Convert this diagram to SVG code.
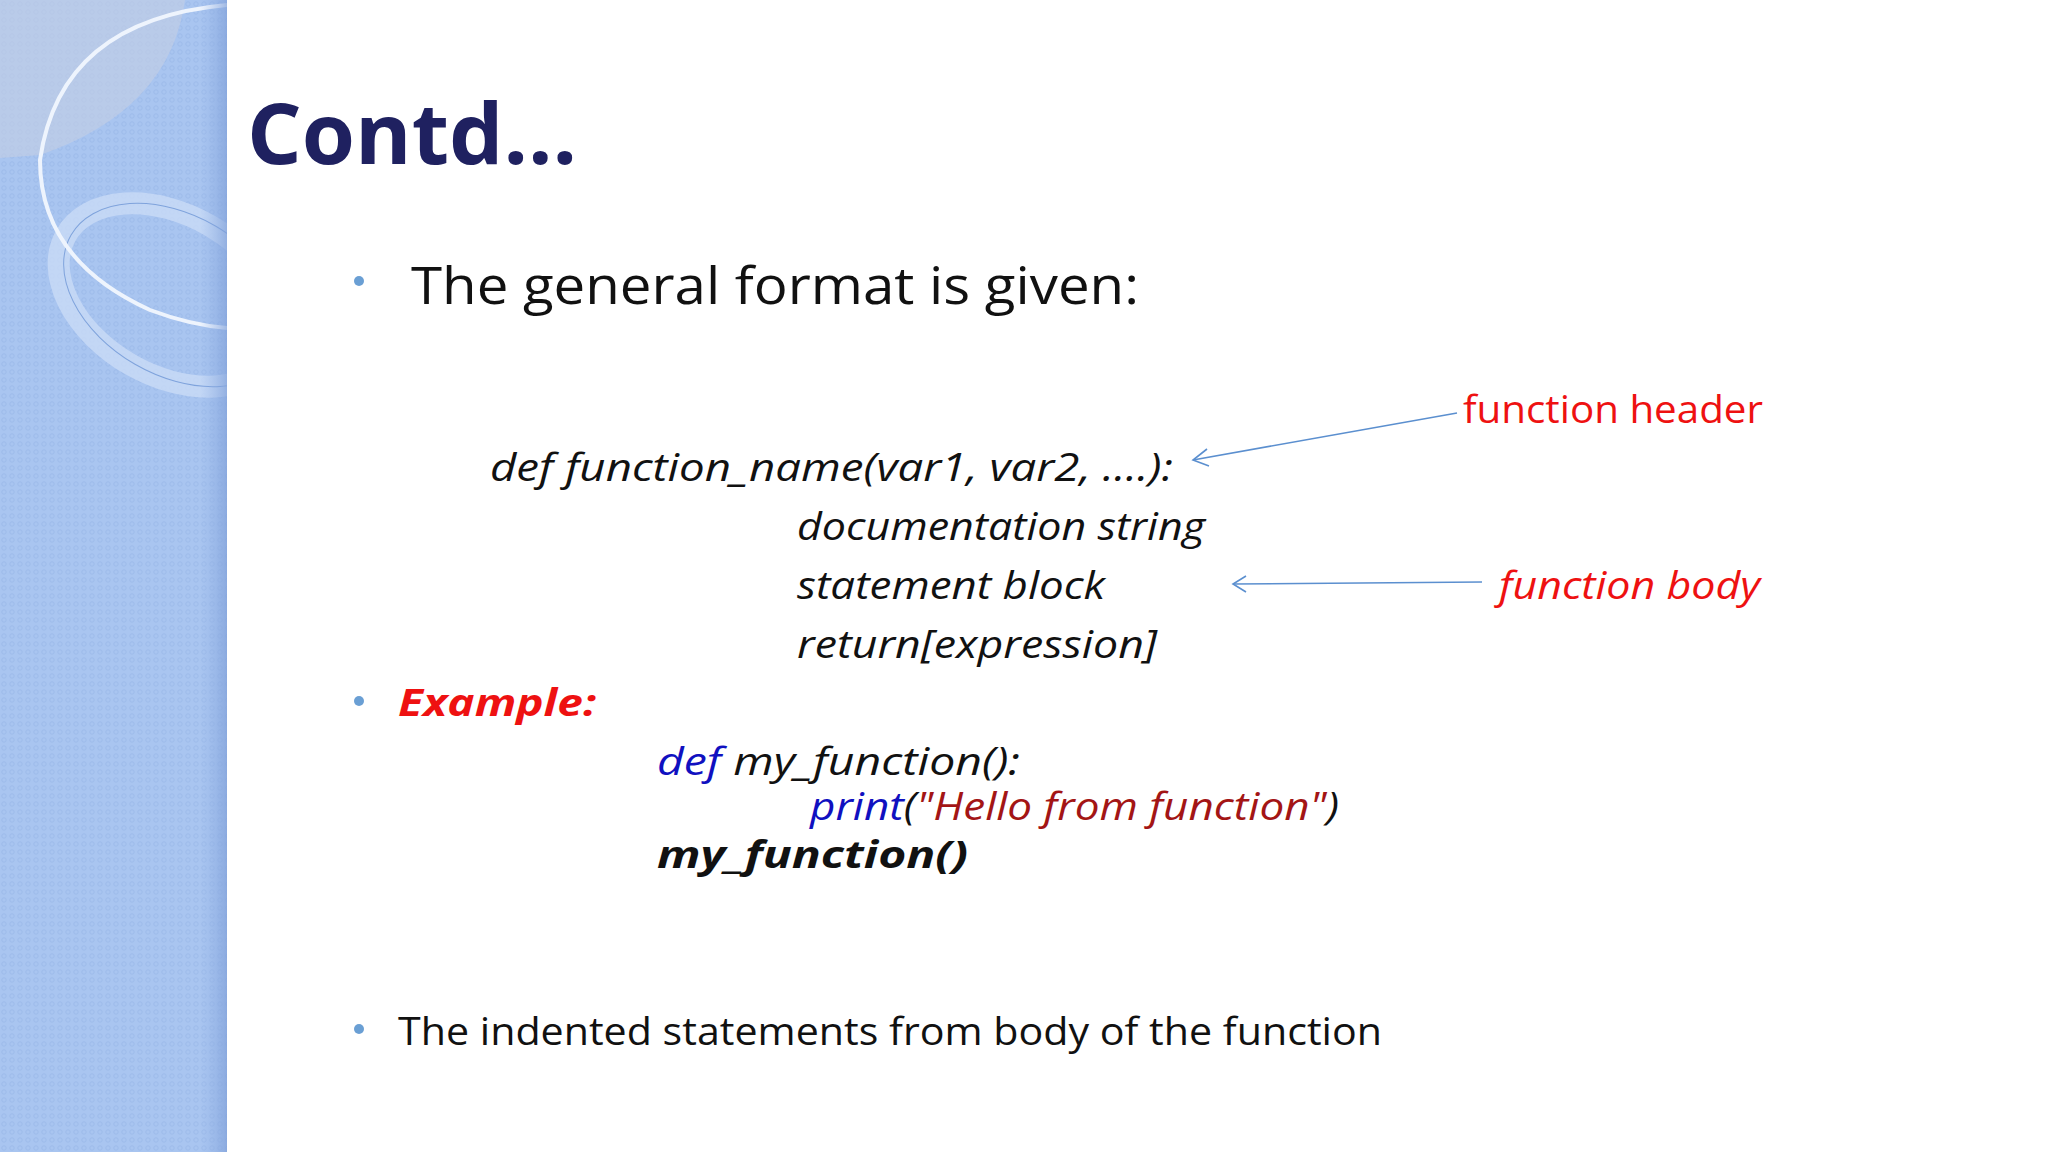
<svg xmlns="http://www.w3.org/2000/svg" width="2048" height="1152" viewBox="0 0 2048 1152">
<style>
.t{font-family:"Open Sans","DejaVu Sans",sans-serif;}
.code{font-family:"Open Sans","DejaVu Sans",sans-serif;font-style:italic;font-size:38px;fill:#111;}
.red{fill:#ee1111;}
.blue{fill:#1010c0;}
.bul{fill:#6a9fd4;}
.arr{stroke:#5b8fcf;stroke-width:1.6;fill:none;}
</style>
<defs>
<pattern id="dots" width="8" height="8" patternUnits="userSpaceOnUse">
<rect width="8" height="8" fill="#a9c5f0"/>
<circle cx="4" cy="4" r="2.2" fill="none" stroke="#9dbbea" stroke-width="1"/>
</pattern>
<linearGradient id="edge" x1="0" x2="1"><stop offset="0" stop-color="#8fb0e6" stop-opacity="0"/><stop offset="1" stop-color="#7f9fd8" stop-opacity="0.7"/></linearGradient>
<clipPath id="pc"><rect width="227" height="1152"/></clipPath>
</defs>
<rect width="2048" height="1152" fill="#ffffff"/>
<g id="panel" clip-path="url(#pc)">
<rect width="227" height="1152" fill="url(#dots)"/>
<path d="M0 0 H185 Q170 110 40 155 L0 158 Z" fill="#c4cfe4" opacity="0.6"/>
<ellipse cx="170" cy="295" rx="120" ry="80" transform="rotate(30 170 295)" fill="none" stroke="#c9dbf6" stroke-width="22" opacity="0.8"/>
<ellipse cx="175" cy="295" rx="120" ry="80" transform="rotate(30 175 295)" fill="none" stroke="#7fa3dc" stroke-width="1"/>
<path d="M227 5 Q60 20 40 160 Q40 260 150 310 Q190 325 227 328" fill="none" stroke="#eef4fd" stroke-width="4"/>
<rect x="200" width="27" height="1152" fill="url(#edge)"/>
</g>
<g id="title"><text x="247" y="164" class="t" font-weight="bold" font-size="84" fill="#1f2160" textLength="330" lengthAdjust="spacingAndGlyphs">Contd…</text></g>
<g id="b1"><circle cx="359" cy="281" r="5" class="bul"/><text x="411" y="304" class="t" font-size="51" fill="#111" textLength="728" lengthAdjust="spacingAndGlyphs">The general format is given:</text></g>
<g id="header"><text x="490" y="481" class="code" textLength="683" lengthAdjust="spacingAndGlyphs">def function_name(var1, var2, ….):</text></g>
<g id="doc"><text x="797" y="540" class="code" textLength="408" lengthAdjust="spacingAndGlyphs">documentation string</text></g>
<g id="stmt"><text x="797" y="599" class="code" textLength="308" lengthAdjust="spacingAndGlyphs">statement block</text></g>
<g id="ret"><text x="797" y="658" class="code" textLength="360" lengthAdjust="spacingAndGlyphs">return[expression]</text></g>
<g id="lblheader"><text x="1463" y="423" class="t red" font-size="39" textLength="300" lengthAdjust="spacingAndGlyphs">function header</text></g>
<g id="lblbody"><text x="1499" y="599" class="t red" font-style="italic" font-size="39" textLength="261" lengthAdjust="spacingAndGlyphs">function body</text></g>
<g id="connectors">
<path class="arr" d="M1457 413 L1193 460"/>
<path class="arr" d="M1207 449 L1193 460 L1209 466"/>
<path class="arr" d="M1482 582 L1233 584"/>
<path class="arr" d="M1246 576 L1233 584 L1246 592"/>
</g>
<g id="b2"><circle cx="359" cy="701" r="5" class="bul"/><text x="398" y="716" class="t red" font-weight="bold" font-style="italic" font-size="38" textLength="198" lengthAdjust="spacingAndGlyphs">Example:</text></g>
<g id="ex1"><text x="657" y="775" class="code" textLength="363" lengthAdjust="spacingAndGlyphs"><tspan class="blue">def</tspan> my_function():</text></g>
<g id="ex2"><text x="810" y="820" class="code" textLength="529" lengthAdjust="spacingAndGlyphs"><tspan class="blue">print</tspan>(<tspan fill="#a31515">"Hello from function"</tspan>)</text></g>
<g id="ex3"><text x="657" y="868" class="code" font-weight="bold" textLength="311" lengthAdjust="spacingAndGlyphs">my_function()</text></g>
<g id="b3"><circle cx="359" cy="1029" r="5" class="bul"/><text x="398" y="1045" class="t" font-size="39" fill="#111" textLength="984" lengthAdjust="spacingAndGlyphs">The indented statements from body of the function</text></g>
</svg>
